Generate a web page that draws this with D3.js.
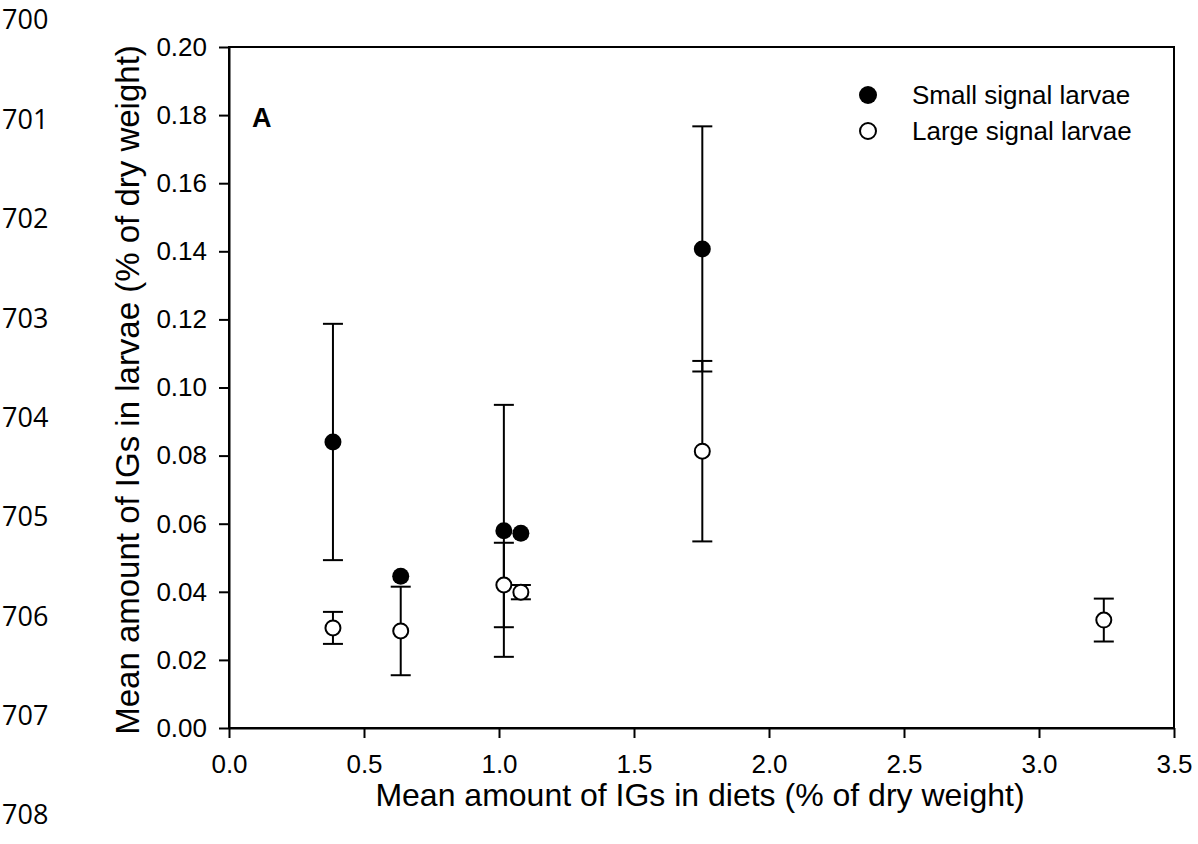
<!DOCTYPE html>
<html>
<head>
<meta charset="utf-8">
<script src="https://cdn.jsdelivr.net/npm/d3@7"></script>
<style>
  body { margin: 0; background: #fff; }
  svg { display: block; }
  .axis path, .axis line { stroke: #000; stroke-width: 2; }
  .axis text { font-family: "Liberation Sans", Arial, sans-serif; font-size: 26px; fill: #000; }
</style>
</head>
<body>
<div id="chart"></div>
<script>
// diet IG content (x) for each treatment
const smallX = [0.385, 0.636, 1.018, 1.081, 1.753];
const smallY = [0.084, 0.0446, 0.0579, 0.0572, 0.1407];
const smallErr = [0.0347, 0, 0.037, 0, 0.036];

const largeX = [0.385, 0.636, 1.018, 1.081, 1.753, 3.24];
const largeY = [0.0294, 0.0285, 0.042, 0.0399, 0.0813, 0.0317];
const largeErr = [0.0047, 0.013, 0.0124, 0.0021, 0.0265, 0.0063];

const xTicks = [0, 0.5, 1.0, 1.5, 2.0, 2.5, 3.0, 3.5];
const yTicks = [0, 0.02, 0.04, 0.06, 0.08, 0.10, 0.12, 0.14, 0.16, 0.18, 0.20];
const lineNumbers = [700, 701, 702, 703, 704, 705, 706, 707, 708];

const width = 1198;
const height = 844;

const svg = d3.select("#chart")
    .append("svg")
    .attr("width", width)
    .attr("height", height);

const x = d3.scaleLinear().domain([0, 3.5]).range([229, 1174]);
const y = d3.scaleLinear().domain([0, 0.2]).range([728, 47]);

// manuscript line numbers down the left margin
const lineY = d3.scalePoint().domain(lineNumbers).range([20, 815]);
svg.append("g")
    .selectAll("text")
    .data(lineNumbers)
    .enter()
    .append("text")
    .attr("x", 2)
    .attr("y", d => lineY(d))
    .attr("dy", "0.35em")
    .attr("font-family", "'Open Sans', sans-serif")
    .attr("font-size", 27)
    .text(d => d);

// frame
svg.append("rect")
    .attr("x", x(0)).attr("y", y(0.2))
    .attr("width", x(3.5) - x(0)).attr("height", y(0) - y(0.2))
    .attr("fill", "none").attr("stroke", "#000").attr("stroke-width", 2);

svg.append("g")
    .attr("class", "axis")
    .attr("transform", `translate(0,${y(0)})`)
    .call(d3.axisBottom(x).tickValues(xTicks).tickFormat(d3.format(".1f")).tickSize(10).tickPadding(17).tickSizeOuter(0));

svg.append("g")
    .attr("class", "axis")
    .attr("transform", `translate(${x(0)},0)`)
    .call(d3.axisLeft(y).tickValues(yTicks).tickFormat(d3.format(".2f")).tickSize(10).tickPadding(12).tickSizeOuter(0));

// error bars
function drawErrors(xs, ys, errs) {
    const g = svg.append("g").attr("stroke", "#000").attr("stroke-width", 2);
    xs.forEach((xv, i) => {
        const e = errs[i];
        if (!e) return;
        const cx = x(xv);
        g.append("line").attr("x1", cx).attr("x2", cx).attr("y1", y(ys[i] - e)).attr("y2", y(ys[i] + e));
        [ys[i] - e, ys[i] + e].forEach(v => {
            g.append("line").attr("x1", cx - 10).attr("x2", cx + 10).attr("y1", y(v)).attr("y2", y(v));
        });
    });
}
drawErrors(smallX, smallY, smallErr);
drawErrors(largeX, largeY, largeErr);

svg.append("g")
    .selectAll("circle")
    .data(smallX)
    .enter()
    .append("circle")
    .attr("cx", d => x(d))
    .attr("cy", (d, i) => y(smallY[i]))
    .attr("r", 8.5)
    .attr("fill", "#000");

svg.append("g")
    .selectAll("circle")
    .data(largeX)
    .enter()
    .append("circle")
    .attr("cx", d => x(d))
    .attr("cy", (d, i) => y(largeY[i]))
    .attr("r", 7.5)
    .attr("fill", "#fff")
    .attr("stroke", "#000")
    .attr("stroke-width", 2);

// panel letter
svg.append("text")
    .attr("x", 252).attr("y", 127)
    .attr("font-family", "'Liberation Sans', Arial, sans-serif")
    .attr("font-size", 27).attr("font-weight", "bold")
    .text("A");

// legend
const legend = svg.append("g").attr("font-family", "'Liberation Sans', Arial, sans-serif").attr("font-size", 26);
legend.append("circle").attr("cx", 868).attr("cy", 95).attr("r", 9).attr("fill", "#000");
legend.append("circle").attr("cx", 868).attr("cy", 131).attr("r", 8).attr("fill", "#fff").attr("stroke", "#000").attr("stroke-width", 2);
legend.append("text").attr("x", 912).attr("y", 95).attr("dy", "0.35em").text("Small signal larvae");
legend.append("text").attr("x", 912).attr("y", 131).attr("dy", "0.35em").text("Large signal larvae");

// axis titles
svg.append("text")
    .attr("x", 700).attr("y", 806)
    .attr("text-anchor", "middle")
    .attr("font-family", "'Liberation Sans', Arial, sans-serif")
    .attr("font-size", 32)
    .text("Mean amount of IGs in diets (% of dry weight)");

svg.append("text")
    .attr("transform", "translate(139,390) rotate(-90)")
    .attr("text-anchor", "middle")
    .attr("font-family", "'Liberation Sans', Arial, sans-serif")
    .attr("font-size", 33)
    .text("Mean amount of IGs in larvae (% of dry weight)");
</script>
</body>
</html>
